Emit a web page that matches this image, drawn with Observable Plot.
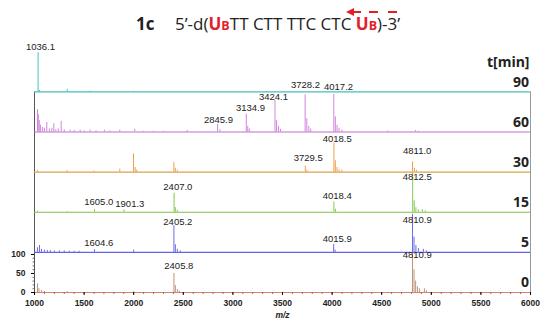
<!DOCTYPE html>
<html>
<head>
<meta charset="utf-8">
<script src="https://cdn.jsdelivr.net/npm/d3@7"></script>
<script src="https://cdn.jsdelivr.net/npm/@observablehq/plot@0.6"></script>
<style>
  body { margin: 0; background: #fff; }
  #wrap { position: relative; width: 550px; height: 324px; overflow: hidden; }
  #title { position: absolute; left: 0; top: 0; width: 550px; height: 40px; font-family: "Open Sans", sans-serif; color: #222; }
  #title .t { position: absolute; top: 15.5px; font-size: 17px; line-height: 16px; white-space: nowrap; }
  #title .r { color: #e3202a; font-weight: bold; }
  #title .r small { font-size: 12.5px; }
  .dash { position: absolute; background: #e3202a; height: 2.6px; top: 10.7px; }
  .head { position: absolute; left: 346px; top: 8px; width: 0; height: 0;
          border-right: 8px solid #e3202a; border-top: 4px solid transparent; border-bottom: 4px solid transparent; }
  #chart { position: absolute; left: 0; top: 40px; }
</style>
</head>
<body>
<div id="wrap">
  <div id="title">
    <span class="t" style="left:136px;font-weight:bold">1c</span>
    <span class="t" style="left:175px">5’-d(<span class="r">U<small>B</small></span>TT CTT TTC CTC <span class="r">U<small>B</small></span>)-3’</span>
    <div class="head"></div>
    <div class="dash" style="left:353px;width:8px"></div>
    <div class="dash" style="left:369px;width:9px"></div>
    <div class="dash" style="left:388px;width:9px"></div>
  </div>
  <div id="chart"></div>
</div>
<script>
// ---- data ----
const times = ["0", "5", "15", "30", "60", "90"]; // bottom to top, t[min]

// [m/z, relative intensity %]
const peaks0 = [[1030,23],[1045,10],[1070,5],[1100,3],[1330,2],[2000,2],[2405.8,50],[2420,18],[2440,8],[2460,4],
  [4810.9,100],[4826,60],[4842,30],[4860,15],[4880,10],[4930,10],[4950,5]];
const peaks5 = [[1030,12],[1050,18],[1070,8],[1100,6],[1130,5],[1160,5],[1200,4],[1250,4],[1300,4],[1350,3],[1400,3],
  [1450,3],[1604.6,7],[2000,6],[2405.2,70],[2420,20],[2440,8],[2470,4],[4015.9,21],[4030,6],
  [4810.9,100],[4826,40],[4845,18],[4870,10],[4920,8],[4950,4]];
const peaks15 = [[1030,3],[1330,2],[1605.0,7],[1901.3,6],[2407.0,50],[2420,12],[2440,5],[4018.4,27],[4035,8],
  [4812.5,102],[4828,30],[4845,12],[4870,6],[4910,7],[4940,4]];
const peaks30 = [[1030,4],[1330,4],[1600,3],[1860,8],[1998,48],[2015,12],[2030,5],[2405,25],[2420,10],[2440,5],
  [3729.5,16],[3745,5],[4018.5,76],[4033,30],[4050,12],[4070,6],[4100,5],[4811.0,27],[4830,10],[4850,5]];
const peaks60 = [[1030,59],[1038,46],[1048,30],[1060,18],[1080,12],[1100,10],[1124,25],[1150,8],[1175,10],[1195,22],
  [1215,6],[1240,8],[1269,28],[1300,6],[1360,5],[1400,4],[1460,5],[1500,3],[1560,5],[1620,3],[1705,5],[1760,3],
  [1860,5],[2010,7],[2100,2],[2200,2],[2300,2],[2540,4],[2845.9,20],[2870,6],[3134.9,47],[3150,15],[3165,8],
  [3424.1,83],[3440,30],[3460,15],[3480,7],[3728.2,98],[3745,35],[3765,15],[3785,8],
  [4017.2,99],[4033,40],[4050,18],[4070,10],[4100,5],[4560,3],[4840,4],[4870,2]];
const peaks90 = [[1036.1,103],[1050,4],[1330,6],[1560,2],[2000,1.5]];

// peak labels: [m/z text, label m/z position, label height %]
const labels0 = [[2405.8,2455,70],[4810.9,4858,98]];
const labels5 = [[1604.6,1648,26],[2405.2,2445,79],[4015.9,4051,36],[4810.9,4858,86]];
const labels15 = [[1605.0,1648,28],[1901.3,1961,23],[2407.0,2445,67],[4018.4,4051,43],[4812.5,4858,93]];
const labels30 = [[3729.5,3759,36],[4018.5,4051,86],[4811.0,4858,55]];
const labels60 = [[2845.9,2855,33],[3134.9,3177,62],[3424.1,3409,93],[3728.2,3732,124],[4017.2,4065,118]];
const labels90 = [[1036.1,1060,118]];

const xTicks = [1000,1500,2000,2500,3000,3500,4000,4500,5000,5500,6000];
const yTicks = [0,50,100];

// ---- build ----
const peakSets = [peaks0, peaks5, peaks15, peaks30, peaks60, peaks90];
const labelSets = [labels0, labels5, labels15, labels30, labels60, labels90];
const step = 105.5; // vertical offset between stacked spectra (intensity units)
const lineColors = ["#dc7e6e", "#6464e2", "#80c24a", "#d9a24c", "#c06ccf", "#48bdbd"];
const stickColors = ["#c0927a", "#6a6ae6", "#84ca4c", "#eea04c", "#d187dc", "#45c0c0"];

const sticks = [], lbls = [], bases = [];
times.forEach((t, i) => {
  const off = i * step;
  bases.push({t, i, off});
  peakSets[i].forEach(([mz, v]) => sticks.push({t, i, mz, y1: off, y2: off + v}));
  labelSets[i].forEach(([txt, lx, ly]) => lbls.push({t, i, txt: txt.toFixed(1), lx, y: off + ly}));
});
const topBase = (times.length - 1) * step;

const chart = Plot.plot({
  width: 550,
  height: 284,
  marginLeft: 34,
  marginRight: 20,
  marginTop: 1,
  marginBottom: 32,
  style: {fontFamily: "'Liberation Sans', Arial, sans-serif", background: "#fff", overflow: "visible"},
  x: {domain: [1000, 6000], axis: null},
  y: {domain: [0, 660], axis: null},
  marks: [
    // frame sides
    Plot.ruleX([1000], {y1: 0, y2: topBase, stroke: "#555", strokeWidth: 1}),
    Plot.ruleX([6000], {y1: 0, y2: topBase, stroke: "#999", strokeWidth: 1}),
    // spectra
    Plot.ruleX(sticks, {x: "mz", y1: "y1", y2: "y2", stroke: d => stickColors[d.i], strokeWidth: 1}),
    Plot.ruleY(bases, {y: "off", x1: 1000, x2: 6000, stroke: d => lineColors[d.i], strokeWidth: 1.2}),
    // axes
    Plot.axisX(d3.range(1000, 6001, 100), {tickSize: 2, tickFormat: () => "", stroke: "#777", label: null}),
    Plot.axisX(xTicks, {tickSize: 3, tickPadding: 4, fontSize: 8.5, fontWeight: "bold", fill: "#222", label: null, tickFormat: d3.format("d")}),
    Plot.axisY(d3.range(0, 101, 10), {tickSize: 1.5, tickFormat: () => "", stroke: "#777", label: null}),
    Plot.axisY(yTicks, {tickSize: 3, tickPadding: 6, fontSize: 8.5, fontWeight: "bold", fill: "#222", label: null}),
    Plot.text(["m/z"], {frameAnchor: "bottom", dy: 22.5, lineAnchor: "middle", fontStyle: "italic", fontWeight: "bold", fontSize: 8.5, fill: "#222"}),
    // peak labels
    Plot.text(lbls, {x: "lx", y: "y", text: "txt", fontSize: 9.5, fill: "#222"}),
    // time labels
    Plot.text(bases, {x: 6000, y: "off", text: "t", dx: -1.5, dy: -9.5, textAnchor: "end",
      fontFamily: "'Open Sans', sans-serif", fontWeight: "bold", fontSize: 14, fill: "#222"}),
    Plot.text(["t[min]"], {frameAnchor: "top-right", dx: -1, dy: 20.7, lineAnchor: "middle", textAnchor: "end",
      fontFamily: "'Open Sans', sans-serif", fontWeight: "bold", fontSize: 14, fill: "#222"})
  ]
});
document.getElementById("chart").appendChild(chart);
</script>
</body>
</html>
